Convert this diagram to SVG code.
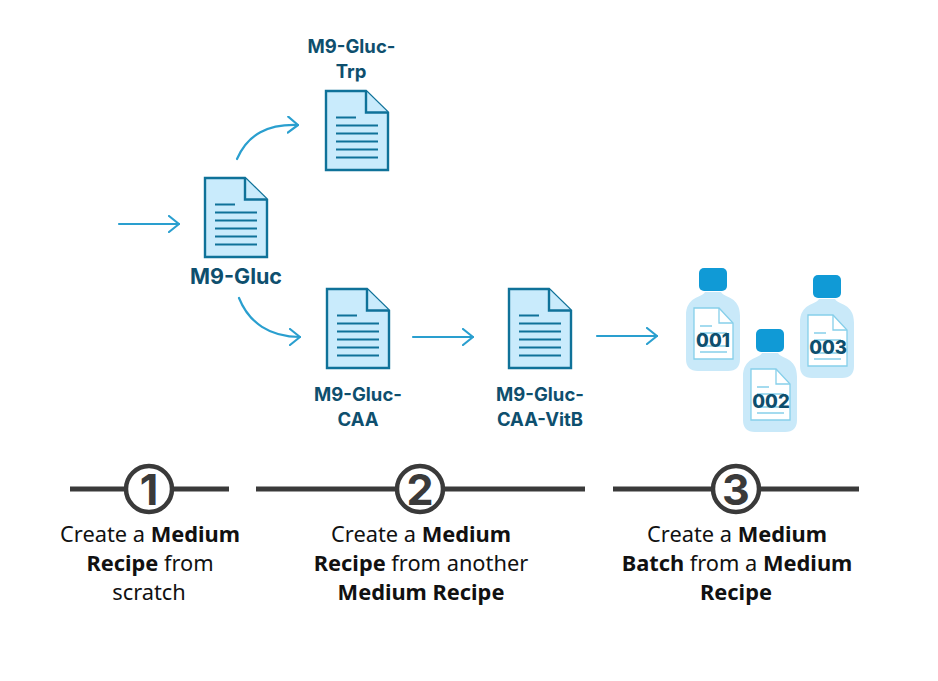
<svg xmlns="http://www.w3.org/2000/svg" width="938" height="681" viewBox="0 0 938 681">
<style>
.bg{fill:#fff}
.doc{fill:#c9ebfc;stroke:#0f7299;stroke-width:2.4;stroke-linejoin:miter}
.dl{stroke:#0f7299;stroke-width:1.8;fill:none}
.arrow{fill:none;stroke:#2a9fcf;stroke-width:2.2;stroke-linecap:round;stroke-linejoin:round}
.lbl{font-family:"Inter","Noto Sans",sans-serif;font-weight:700;fill:#0e4f6e;text-anchor:middle}
.s{font-size:18.500px}
.body{fill:#c9e9f9}
.cap{fill:#109ad6}
.pg{fill:#fff;stroke:#86cfea;stroke-width:1.3}
.pl{stroke:#86cfea;stroke-width:1.3;fill:none}
.num{font-family:"Inter","Noto Sans",sans-serif;font-weight:800;font-size:18.500px;fill:#0e4f6e;text-anchor:middle}
.bar{stroke:#3a3a3a;stroke-width:5;fill:none}
.circ{fill:#fff;stroke:#3a3a3a;stroke-width:4.5}
.n{font-family:"Inter","Noto Sans",sans-serif;font-weight:700;font-size:43px;fill:#3a3a3a;text-anchor:middle}
.cap-t{font-family:"Noto Sans",sans-serif;font-size:21.800px;fill:#111;text-anchor:middle}
.cap-t tspan.b{font-weight:700}
</style>
<defs>
<g id="docicon">
<path class="doc" d="M0 0H40L62 21.500V79H0Z"/>
<path class="doc" d="M40 0V21.500H62"/>
<path class="dl" d="M10 26.500H30M10 34.500H52M10 42.500H52M10 50.500H52M10 58.500H52M10 66.500H52"/>
</g>
<g id="bottle">
<rect class="cap" x="13" y="0" width="28" height="23" rx="5"/>
<path class="body" d="M19 24H35C38 30 54 28 54 48V91Q54 103 42 103H12Q0 103 0 91V48C0 28 16 30 19 24Z"/>
<path class="pg" d="M8 40H33L47 55V91H8Z"/>
<path class="pl" d="M33 40V55H47M14 58H26M14 65H41M14 78H41M14 84H41"/>
</g>
<marker id="head" viewBox="0 0 12 18" refX="11" refY="9" markerWidth="12" markerHeight="18" markerUnits="userSpaceOnUse" orient="auto">
<path d="M1 1L11 9L1 17" fill="none" stroke="#2a9fcf" stroke-width="2.200" stroke-linecap="round" stroke-linejoin="round"/>
</marker>
</defs>
<rect class="bg" width="938" height="681"/>
<g id="connectors">
<path class="arrow" marker-end="url(#head)" d="M119 224H179"/>
<path class="arrow" marker-end="url(#head)" d="M237 159C248 134 268 124 298 125"/>
<path class="arrow" marker-end="url(#head)" d="M239 298C249 323 270 337 300 337"/>
<path class="arrow" marker-end="url(#head)" d="M413 337H473"/>
<path class="arrow" marker-end="url(#head)" d="M597 336H657"/>
</g>
<g id="node-m9-gluc"><use href="#docicon" x="205" y="178"/><text class="lbl" x="236" y="284" font-size="21.500">M9-Gluc</text></g>
<g id="node-m9-gluc-trp"><use href="#docicon" x="326" y="91"/><text class="lbl s" x="351.500" y="53">M9-Gluc-</text><text class="lbl s" x="351" y="78">Trp</text></g>
<g id="node-m9-gluc-caa"><use href="#docicon" x="327" y="289"/><text class="lbl s" x="358" y="401">M9-Gluc-</text><text class="lbl s" x="358" y="426">CAA</text></g>
<g id="node-m9-gluc-caa-vitb"><use href="#docicon" x="509" y="289"/><text class="lbl s" x="540" y="401">M9-Gluc-</text><text class="lbl s" x="540" y="426">CAA-VitB</text></g>
<g id="node-bottle-001"><use href="#bottle" x="686" y="268"/><text class="num" x="713" y="347">001</text></g>
<g id="node-bottle-003"><use href="#bottle" x="800" y="275"/><text class="num" x="828" y="354">003</text></g>
<g id="node-bottle-002"><use href="#bottle" x="743" y="329"/><text class="num" x="771" y="408">002</text></g>
<g id="node-step-1">
<path class="bar" d="M70 489H229"/><circle class="circ" cx="149" cy="489" r="23"/><text class="n" x="149" y="505">1</text>
<text class="cap-t" x="150" y="542">Create a <tspan class="b">Medium</tspan></text>
<text class="cap-t" x="150" y="571"><tspan class="b">Recipe</tspan> from</text>
<text class="cap-t" x="149" y="600">scratch</text>
</g>
<g id="node-step-2">
<path class="bar" d="M256 489H585"/><circle class="circ" cx="420" cy="489" r="23"/><text class="n" x="420" y="505">2</text>
<text class="cap-t" x="421" y="542">Create a <tspan class="b">Medium</tspan></text>
<text class="cap-t" x="421" y="571"><tspan class="b">Recipe</tspan> from another</text>
<text class="cap-t" x="421" y="600"><tspan class="b">Medium Recipe</tspan></text>
</g>
<g id="node-step-3">
<path class="bar" d="M613 489H859"/><circle class="circ" cx="736" cy="489" r="23"/><text class="n" x="736" y="505">3</text>
<text class="cap-t" x="737" y="542">Create a <tspan class="b">Medium</tspan></text>
<text class="cap-t" x="737" y="571"><tspan class="b">Batch</tspan> from a <tspan class="b">Medium</tspan></text>
<text class="cap-t" x="736" y="600"><tspan class="b">Recipe</tspan></text>
</g>
</svg>
